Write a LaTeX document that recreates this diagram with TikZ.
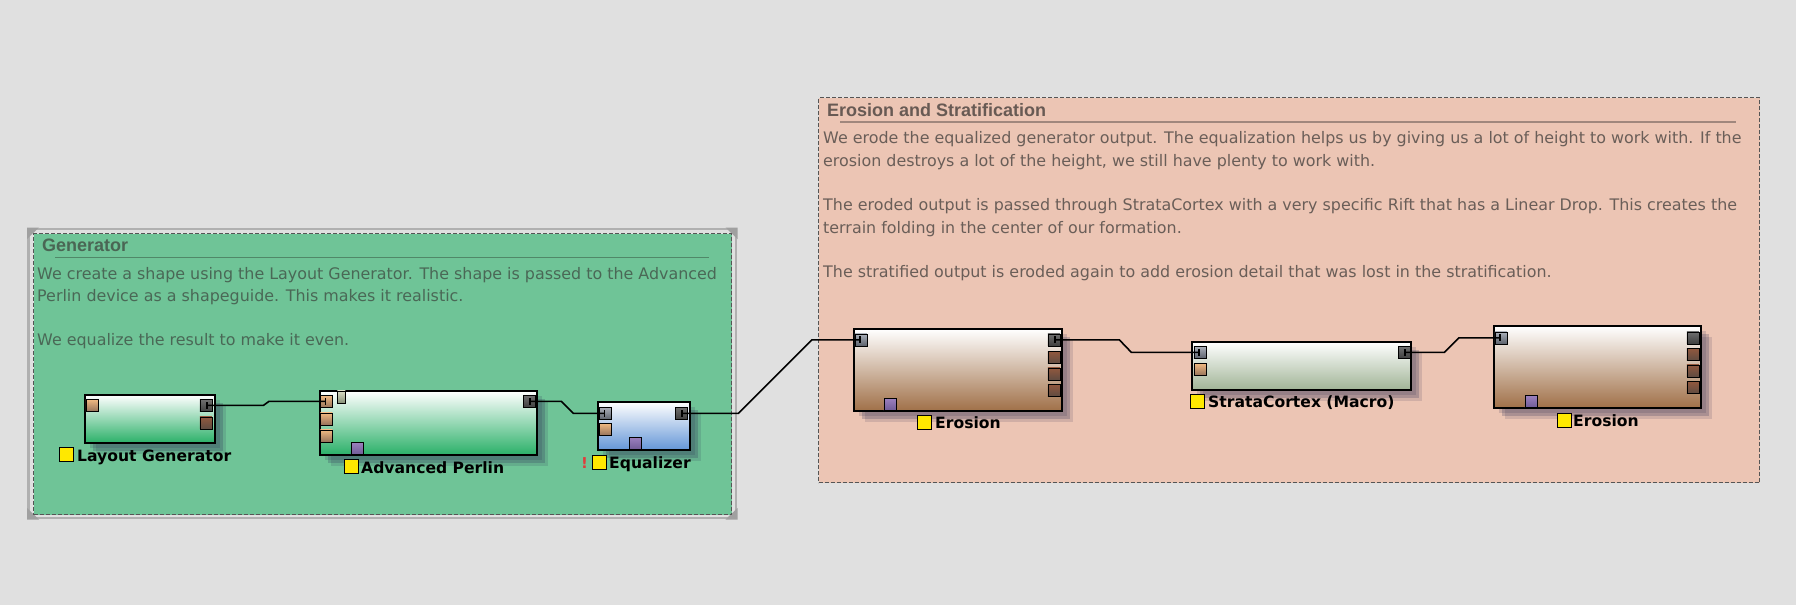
\documentclass[tikz,border=0pt]{standalone}
\usepackage{fontspec}
\setmainfont{Liberation Sans}
\newfontfamily\lblfont{DejaVu Sans}
\newfontfamily\bodyfont{DejaVu Sans}
\usetikzlibrary{shadows,calc,arrows.meta}
\definecolor{bgcol}{RGB}{224,224,224}
\definecolor{gengreen}{RGB}{111,196,151}
\definecolor{erofill}{RGB}{236,197,180}
\definecolor{dashc}{RGB}{85,85,85}
\definecolor{framec}{RGB}{176,176,176}
\definecolor{gripc}{RGB}{160,160,160}
\definecolor{gentitle}{RGB}{74,102,84}
\definecolor{genbody}{RGB}{74,104,86}
\definecolor{genline}{RGB}{80,136,104}
\definecolor{erotitle}{RGB}{104,90,84}
\definecolor{erobody}{RGB}{106,94,88}
\definecolor{eroline}{RGB}{160,135,125}
\definecolor{boxgreen}{RGB}{42,176,104}
\definecolor{eqblue}{RGB}{100,150,215}
\definecolor{erobrown}{RGB}{160,112,72}
\definecolor{stratac}{RGB}{160,180,150}
\definecolor{shadowc}{RGB}{40,40,80}
\definecolor{flagy}{RGB}{255,232,0}
\definecolor{warnred}{RGB}{225,60,60}
\definecolor{oTop}{RGB}{240,185,130}\definecolor{oBot}{RGB}{150,115,90}
\definecolor{gTop}{RGB}{110,110,110}\definecolor{gBot}{RGB}{62,62,62}
\definecolor{bTop}{RGB}{145,88,62}\definecolor{bBot}{RGB}{95,75,65}
\definecolor{pTop}{RGB}{155,128,190}\definecolor{pBot}{RGB}{112,92,150}
\definecolor{iTop}{RGB}{170,175,185}\definecolor{iBot}{RGB}{92,98,108}
\definecolor{tTop}{RGB}{218,222,198}\definecolor{tBot}{RGB}{135,145,120}
\tikzset{
  devbox/.style={draw=black, line width=2pt, anchor=north west, inner sep=0pt,
    top color=white,
    drop shadow={shadow xshift=5pt, shadow yshift=-5pt, fill=shadowc, opacity=0.16},
    drop shadow={shadow xshift=8pt, shadow yshift=-8pt, fill=shadowc, opacity=0.22},
    drop shadow={shadow xshift=11pt, shadow yshift=-11pt, fill=shadowc, opacity=0.14}},
  portbase/.style={draw=black, line width=0.8pt, anchor=north west, inner sep=0pt,
    minimum width=12pt, minimum height=12pt},
  portO/.style={portbase, top color=oTop, bottom color=oBot},
  portG/.style={portbase, top color=gTop, bottom color=gBot},
  portB/.style={portbase, top color=bTop, bottom color=bBot},
  portP/.style={portbase, top color=pTop, bottom color=pBot},
  portI/.style={portbase, top color=iTop, bottom color=iBot},
  portT/.style={portbase, minimum width=8pt, top color=tTop, bottom color=tBot},
  conn/.style={draw=black, line width=1.6pt, {Bar[width=7pt]}-{Bar[width=7pt]}},
  grpbox/.style={draw=dashc, line width=1.3pt, dash pattern=on 4pt off 2pt,
    anchor=north west, inner sep=0pt},
  flag/.style={draw=black, line width=1.2pt, fill=flagy, anchor=north west,
    inner sep=0pt, minimum width=14pt, minimum height=14pt},
  lbl/.style={anchor=base west, inner sep=0pt, text=black,
    font=\lblfont\bfseries\fontsize{15.6}{18}\selectfont},
  gtitle/.style={anchor=base west, inner sep=0pt, font=\bfseries\fontsize{18}{21}\selectfont},
  gbody/.style={anchor=base west, inner sep=0pt, font=\bodyfont\fontsize{15.9}{19}\selectfont},
}
\begin{document}
\begin{tikzpicture}[x=1pt,y=-1pt]
\useasboundingbox (0,0) rectangle (1796,605);
\fill[bgcol] (0,0) rectangle (1796,605);

% ---------------- Generator group ----------------
\draw[framec, line width=2.5pt] (28.5,229) rectangle (736,518);
\fill[gripc] (27,227.5) -- (39,227.5) -- (27,239) -- cycle;
\fill[gripc] (27,519.5) -- (39,519.5) -- (27,508) -- cycle;
\fill[gripc] (737.5,227.5) -- (725.5,227.5) -- (737.5,239) -- cycle;
\fill[gripc] (737.5,519.5) -- (725.5,519.5) -- (737.5,508) -- cycle;
\node[grpbox, fill=gengreen, minimum width=698pt, minimum height=281pt] (gengrp) at (33,233) {};
\node[gtitle, text=gentitle] (gent) at (42,251.7) {Generator};
\draw[genline, line width=1.6pt] (55,257.3) -- (709,257.3);
\node[gbody, text=genbody] (gb1) at (37,279) {We create a shape using the Layout Generator. The shape is passed to the Advanced};
\node[gbody, text=genbody] (gb2) at (37,301) {Perlin device as a shapeguide. This makes it realistic.};
\node[gbody, text=genbody] (gb3) at (37,345.7) {We equalize the result to make it even.};

% ---------------- Erosion group ----------------
\node[grpbox, fill=erofill, minimum width=941pt, minimum height=385pt] (erogrp) at (818,97) {};
\node[gtitle, text=erotitle] (erot) at (827,116.7) {Erosion and Stratification};
\draw[eroline, line width=1.6pt] (840,122) -- (1736,122);
\node[gbody, text=erobody] (eb1) at (823,143.3) {We erode the equalized generator output. The equalization helps us by giving us a lot of height to work with. If the};
\node[gbody, text=erobody] (eb2) at (823,166) {erosion destroys a lot of the height, we still have plenty to work with.};
\node[gbody, text=erobody] (eb3) at (823,210.7) {The eroded output is passed through StrataCortex with a very specific Rift that has a Linear Drop. This creates the};
\node[gbody, text=erobody] (eb4) at (823,233) {terrain folding in the center of our formation.};
\node[gbody, text=erobody] (eb5) at (823,277.3) {The stratified output is eroded again to add erosion detail that was lost in the stratification.};

% ---------------- Layout Generator ----------------
\node[devbox, bottom color=boxgreen, minimum width=130pt, minimum height=48pt] (lg) at (84,394) {};
\node[portO] (lgi) at (85.5,399) {};
\node[portG] (lgo) at (199.5,399) {};
\node[portB] (lgo2) at (199.5,416.5) {};
\node[flag] (lgf) at (59,447) {};
\node[lbl] (lgl) at (77,461) {Layout Generator};

% ---------------- Advanced Perlin ----------------
\node[devbox, bottom color=boxgreen, minimum width=217pt, minimum height=64pt] (ap) at (319,390) {};
\node[portO] (api1) at (320,395) {};
\node[portO] (api2) at (320,412.5) {};
\node[portO] (api3) at (320,429.5) {};
\node[portT] (apt) at (337,390.5) {};
\node[portP] (apb) at (350.5,442) {};
\node[portG] (apo) at (523,395) {};
\node[flag] (apf) at (343.5,459) {};
\node[lbl] (apl) at (361,473) {Advanced Perlin};

% ---------------- Equalizer ----------------
\node[devbox, bottom color=eqblue, minimum width=92pt, minimum height=48pt] (eq) at (597,401) {};
\node[portI] (eqi) at (599,407) {};
\node[portO] (eqi2) at (599,423) {};
\node[portP] (eqb) at (629,437) {};
\node[portG] (eqo) at (675,407) {};
\node[anchor=base west, inner sep=0pt, text=warnred, font=\lblfont\bfseries\fontsize{15}{18}\selectfont] (eqw) at (581,468) {!};
\node[flag] (eqf) at (591.5,454.5) {};
\node[lbl] (eql) at (609,468) {Equalizer};

% ---------------- Erosion 1 ----------------
\node[devbox, bottom color=erobrown, minimum width=208pt, minimum height=82pt] (er1) at (853,328) {};
\node[portI] (er1i) at (854.5,333.5) {};
\node[portG] (er1o) at (1047.5,333.5) {};
\node[portB] (er1o2) at (1047.5,351) {};
\node[portB] (er1o3) at (1047.5,367.5) {};
\node[portB] (er1o4) at (1047.5,384) {};
\node[portP] (er1b) at (883.5,398) {};
\node[flag] (er1f) at (917,415) {};
\node[lbl] (er1l) at (935,428) {Erosion};

% ---------------- StrataCortex ----------------
\node[devbox, bottom color=stratac, minimum width=219pt, minimum height=48pt] (sc) at (1191,341) {};
\node[portI] (sci) at (1193.5,346) {};
\node[portO] (sci2) at (1193.5,363) {};
\node[portG] (sco) at (1398,346) {};
\node[flag] (scf) at (1190,394) {};
\node[lbl] (scl) at (1208,407) {StrataCortex (Macro)};

% ---------------- Erosion 2 ----------------
\node[devbox, bottom color=erobrown, minimum width=207pt, minimum height=82pt] (er2) at (1493,325) {};
\node[portI] (er2i) at (1494.5,331.5) {};
\node[portG] (er2o) at (1686.5,331.5) {};
\node[portB] (er2o2) at (1686.5,348) {};
\node[portB] (er2o3) at (1686.5,364.5) {};
\node[portB] (er2o4) at (1686.5,381) {};
\node[portP] (er2b) at (1524.5,395) {};
\node[flag] (er2f) at (1557,413) {};
\node[lbl] (er2l) at (1573,426) {Erosion};

% ---------------- connectors ----------------
\draw[conn] (lgo.center) -- ($(lgo.center)+(57.5,0)$) -- ($(api1.center)+(-57.5,0)$) -- (api1.center);
\draw[conn] (apo.center) -- ($(apo.center)+(32,0)$) -- ($(eqi.center)+(-32,0)$) -- (eqi.center);
\draw[conn] (eqo.center) -- ($(eqo.center)+(57,0)$) -- ($(er1i.center)+(-49,0)$) -- (er1i.center);
\draw[conn] (er1o.center) -- ($(er1o.center)+(65.5,0)$) -- ($(sci.center)+(-68.5,0)$) -- (sci.center);
\draw[conn] (sco.center) -- ($(sco.center)+(40,0)$) -- ($(er2i.center)+(-42,0)$) -- (er2i.center);
\end{tikzpicture}
\end{document}
